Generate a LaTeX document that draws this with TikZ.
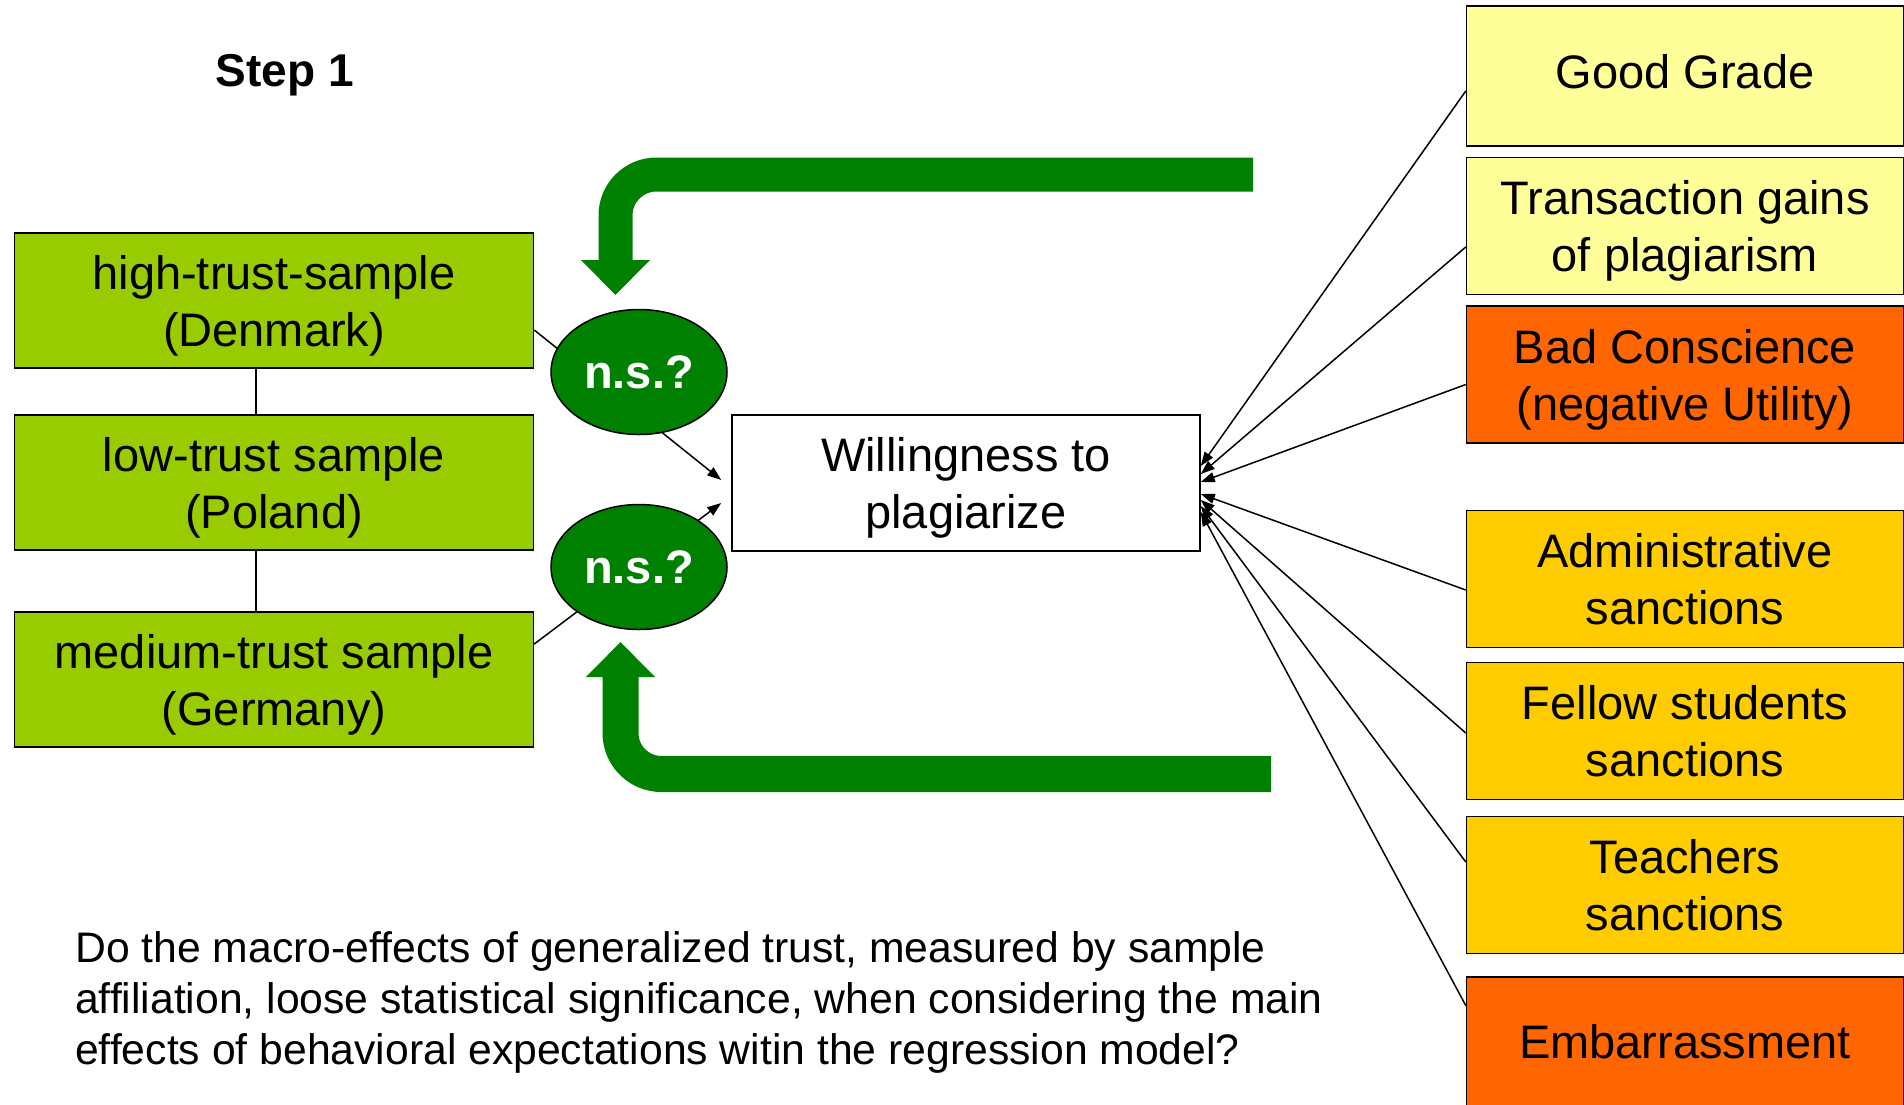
\documentclass[tikz,border=0pt]{standalone}
\usepackage{fontspec}
\setmainfont{Liberation Sans}
\usetikzlibrary{shapes}
\usetikzlibrary{arrows.meta}
\usetikzlibrary{calc,positioning}

\definecolor{trustgreen}{HTML}{99CC00}
\definecolor{nsgreen}{HTML}{008000}
\definecolor{gainyellow}{HTML}{FFFF99}
\definecolor{sanctiongold}{HTML}{FFCC00}
\definecolor{costorange}{HTML}{FF6600}

\begin{document}
\begin{tikzpicture} [x=1pt,y=-1pt,
        every node/.style={font=\fontsize{47}{57}\selectfont},
        sample/.style={
            rectangle,
            draw,
            line width=1.5pt,
            fill=trustgreen,
            align=center,
            text depth=0pt,
            minimum width=519pt,
            minimum height=135pt},
        factor/.style={
            rectangle,
            draw,
            line width=1.5pt,
            fill=#1,
            align=center,
            minimum width=437pt,
            minimum height=137pt},
        ns/.style={
            ellipse,
            draw,
            line width=1.5pt,
            fill=nsgreen,
            text=white,
            inner sep=0pt,
            font=\fontsize{47}{57}\selectfont\bfseries,
            minimum width=176pt,
            minimum height=125pt},
        link/.style={line width=1.5pt},
        effect/.style={line width=1.5pt, -{Triangle[length=14pt,width=10pt]}},
        bigarrow/.style={line width=34pt, draw=nsgreen, rounded corners=41pt,
            -{Triangle[length=35pt,width=67pt]}}]

    \useasboundingbox[fill=white] (0,0) rectangle (1904,1104);

    % feedback arrows
    \coordinate (fbtop) at (1253,174.5);
    \coordinate (fbtoptip) at (615.5,295);
    \draw[bigarrow] (fbtop) -| (fbtoptip);
    \coordinate (fbbot) at (1271,774);
    \coordinate (fbbottip) at (620.5,642);
    \draw[bigarrow, line width=36pt] (fbbot) -| (fbbottip);

    \node[font=\fontsize{46}{55}\selectfont\bfseries] (title) at (285,75) {Step 1};

    % samples
    \node[sample] (hi) at (274,300.5) {high-trust-sample\\(Denmark)};
    \node[sample] (lo) at (274,482.5) {low-trust sample\\(Poland)};
    \node[sample] (med) at (274,679.5) {medium-trust sample\\(Germany)};
    \draw[link] ([xshift=-18pt]hi.south) -- ([xshift=-18pt]lo.north);
    \draw[link] ([xshift=-18pt]lo.south) -- ([xshift=-18pt]med.north);

    % dependent variable
    \node[rectangle, draw, line width=1.5pt, align=center, text depth=0pt,
        minimum width=468pt, minimum height=136pt] (will) at (966,483)
        {Willingness to\\plagiarize};
    \draw[effect] ([yshift=-29.5pt]hi.east) -- ([xshift=-10pt,yshift=3pt]will.west);
    \draw[effect] ([yshift=35.5pt]med.east) -- ([xshift=-10pt,yshift=-20pt]will.west);
    \node[ns] (ns1) at (639,372) {n.s.?};
    \node[ns] (ns2) at (639,567) {n.s.?};

    % behavioral expectations
    \node[factor=gainyellow, minimum height=140pt, text depth=10pt] (gg) at (1685,76) {Good Grade};
    \node[factor=gainyellow, text depth=0pt] (tg) at (1685,226) {Transaction gains\\of plagiarism};
    \node[factor=costorange, text depth=0pt] (bc) at (1685,374.5) {Bad Conscience\\(negative Utility)};
    \node[factor=sanctiongold] (as) at (1685,579) {Administrative\\sanctions};
    \node[factor=sanctiongold] (fs) at (1685,731) {Fellow students\\sanctions};
    \node[factor=sanctiongold] (ts) at (1685,885) {Teachers\\sanctions};
    \node[factor=costorange, text depth=8pt] (em) at (1685,1045.5) {Embarrassment};

    \foreach \src/\off/\tip in {gg/-15/17, tg/-21/9, bc/-10/1, as/-11/-11,
        fs/-2/-17, ts/23/-23, em/40/-29} {
        \draw[effect] ([yshift=\off pt]\src.west) -- ([yshift=\tip pt]will.east);
    }

    \node[anchor=north west, inner sep=0pt, align=left,
        font=\fontsize{42.7}{51}\selectfont] (question) at (75,931)
        {Do the macro-effects of generalized trust, measured by sample\\
         affiliation, loose statistical significance, when considering the main\\
         effects of behavioral expectations witin the regression model?};

\end{tikzpicture}
\end{document}
